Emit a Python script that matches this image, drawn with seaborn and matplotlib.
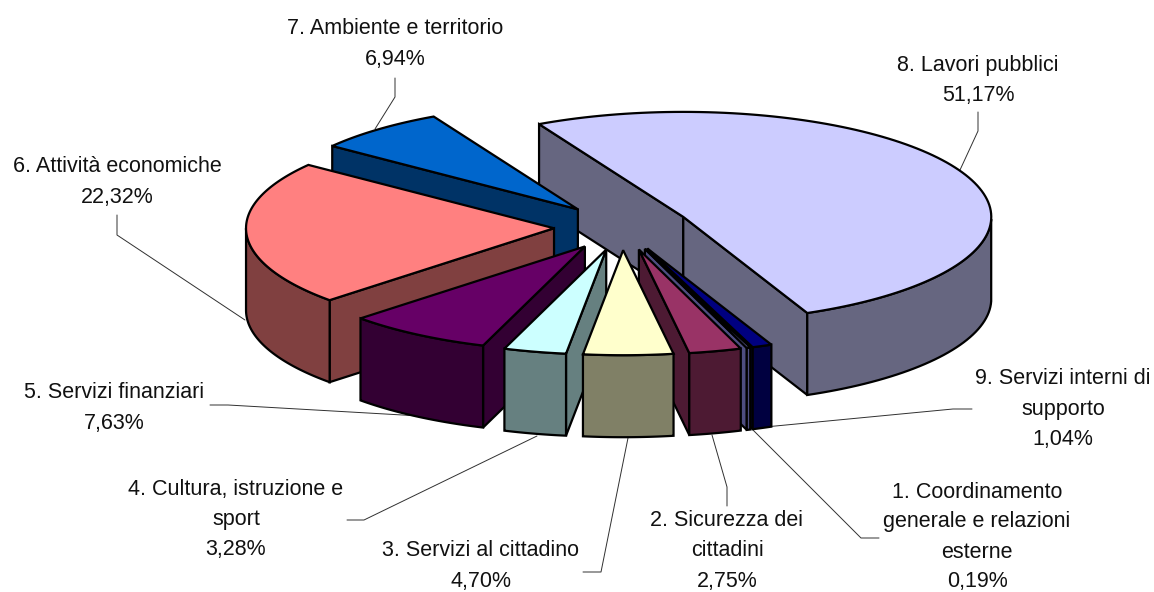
import numpy as np
import seaborn as sns
from matplotlib import pyplot as plt
from matplotlib.patches import Polygon

# Values, in chart order (clockwise from the first slice)
labels = ['1. Coordinamento\ngenerale e relazioni\nesterne', '2. Sicurezza dei\ncittadini',
          '3. Servizi al cittadino', '4. Cultura, istruzione e\nsport', '5. Servizi finanziari',
          '6. Attività economiche', '7. Ambiente e territorio', '8. Lavori pubblici',
          '9. Servizi interni di\nsupporto']
values = [0.19, 2.75, 4.70, 3.28, 7.63, 22.32, 6.94, 51.17, 1.04]
value_text = ['0,19%', '2,75%', '4,70%', '3,28%', '7,63%', '22,32%', '6,94%', '51,17%', '1,04%']
colors = ['#9999FF', '#993366', '#FFFFCC', '#CCFFFF', '#660066', '#FF8080', '#0066CC', '#CCCCFF', '#000080']

# Where the label blocks sit (centre x, first line y) and their leader lines
label_pos = [(977, 492), (727, 521), (481, 551), (236, 489), (114, 393), (117, 167), (395, 29), (978, 66), (1063, 379)]
leaders = [[(879, 538), (861, 538), (753, 430)],
           [(727, 506), (727, 487), (712, 435)],
           [(583, 572), (601, 572), (628, 438)],
           [(347, 520), (364, 520), (537, 436)],
           [(210, 405), (228, 405), (420, 416)],
           [(117, 215), (117, 235), (245, 320)],
           [(395, 78), (395, 97), (375, 129)],
           [(978, 112), (978, 131), (960, 170)],
           [(972, 409), (953, 409), (765, 427)]]

# Pie geometry in pixels
first_angle = 160
cx, cy = 622, 227
rx, ry = 308, 105
explode = 0.221
depth = 82
line_space = 30
draw_order = [7, 6, 5, 8, 0, 4, 1, 3, 2]

sns.set_theme(style='white')
plt.rcParams['font.family'] = ['Liberation Sans', 'DejaVu Sans']
palette = sns.color_palette(colors)

fig = plt.figure(figsize=(11.54, 5.92), dpi=100)
ax = fig.add_axes([0, 0, 1, 1])
ax.set_xlim(0, 1154)
ax.set_ylim(592, 0)
ax.axis('off')

for seg in leaders:
	xs, ys = zip(*seg)
	ax.plot(xs, ys, color='#303030', lw=0.7, zorder=1)

# Slice angles, going clockwise from first_angle
total = sum(values)
ends = first_angle + 360 * np.cumsum(values) / total
starts = np.append(first_angle, ends[:-1])

def face(pts, col, z):
	ax.add_patch(Polygon(pts, closed=True, facecolor=col, edgecolor='black', lw=1.6, joinstyle='miter', zorder=z))

def extrude(pts):
	pts = np.array(pts)
	return np.vstack([pts, pts[::-1] + [0, depth]])

for n, i in enumerate(draw_order):
	# math angles, counterclockwise, th0 < th1
	th1 = np.radians(90 - starts[i])
	th0 = np.radians(90 - ends[i])
	mid = (th0 + th1) / 2
	apex = np.array([cx + explode * rx * np.cos(mid), cy - explode * ry * np.sin(mid)])
	t = np.linspace(th0, th1, 120)
	rim = np.column_stack([apex[0] + rx * np.cos(t), apex[1] - ry * np.sin(t)])
	col = np.array(palette[i])
	side = tuple(col * 0.5)
	z = 2 + n

	if np.cos(th1) < 0:
		face(extrude([apex, rim[-1]]), side, z)
	if np.cos(th0) > 0:
		face(extrude([apex, rim[0]]), side, z)
	front = rim[np.sin(t) < 0]
	if len(front) > 1:
		face(extrude(front), side, z)
	face(np.vstack([apex, rim]), tuple(col), z)

for i, (x, y) in enumerate(label_pos):
	lines = labels[i].split('\n') + [value_text[i]]
	for k, s in enumerate(lines):
		ax.text(x, y + k * line_space, s, ha='center', va='center', fontsize=15.5, color='#111111', zorder=50)

fig.savefig('out.png', dpi=100)
